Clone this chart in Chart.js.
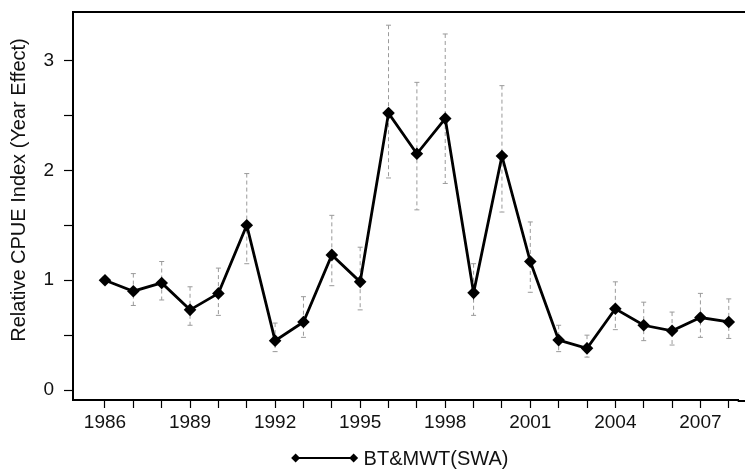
<!DOCTYPE html>
<html>
<head>
<meta charset="utf-8">
<script src="https://cdn.jsdelivr.net/npm/chart.js@4.4.1/dist/chart.umd.min.js"></script>
<style>
  html, body { margin: 0; padding: 0; background: #fff; overflow: hidden; }
  #wrap { width: 745px; height: 475px; }
</style>
</head>
<body>
<div id="wrap"><canvas id="cpue_chart"></canvas></div>
<script>
// data
const years = [1986, 1987, 1988, 1989, 1990, 1991, 1992, 1993, 1994, 1995, 1996, 1997,
  1998, 1999, 2000, 2001, 2002, 2003, 2004, 2005, 2006, 2007, 2008];
const yearEffect = [1.00, 0.90, 0.975, 0.73, 0.88, 1.50, 0.45, 0.62, 1.23, 0.985, 2.52, 2.15,
  2.47, 0.885, 2.13, 1.17, 0.455, 0.38, 0.74, 0.59, 0.54, 0.66, 0.62];
const upperCI = [null, 1.06, 1.17, 0.94, 1.11, 1.97, 0.61, 0.85, 1.59, 1.30, 3.32, 2.80,
  3.24, 1.15, 2.77, 1.53, 0.59, 0.50, 0.985, 0.80, 0.71, 0.88, 0.83];
const lowerCI = [null, 0.77, 0.82, 0.59, 0.68, 1.15, 0.35, 0.48, 0.95, 0.73, 1.93, 1.64,
  1.88, 0.68, 1.62, 0.89, 0.35, 0.30, 0.55, 0.45, 0.41, 0.48, 0.47];
const yTicks = [0, 0.5, 1, 1.5, 2, 2.5, 3];
const yLabels = [0, 1, 2, 3];
const xLabelYears = [1986, 1989, 1992, 1995, 1998, 2001, 2004, 2007];
const seriesName = 'BT&MWT(SWA)';
const yTitle = 'Relative CPUE Index (Year Effect)';

const FONT = '"Liberation Sans", Arial, sans-serif';

function diamond(ctx, cx, cy, r){
  ctx.beginPath();
  ctx.moveTo(cx, cy - r); ctx.lineTo(cx + r, cy); ctx.lineTo(cx, cy + r); ctx.lineTo(cx - r, cy);
  ctx.closePath(); ctx.fill();
}

// dashed confidence bars under the line, frame, y title and legend on top
const extras = {
  id: 'extras',
  beforeDatasetsDraw(chart){
    const ctx = chart.ctx;
    const xs = chart.scales.x, ys = chart.scales.y;
    ctx.save();
    ctx.strokeStyle = '#9a9a9a';
    ctx.lineWidth = 1;
    years.forEach(function(yr, i){
      if (upperCI[i] == null) return;
      const px = xs.getPixelForValue(yr);
      const top = ys.getPixelForValue(upperCI[i]);
      const bot = ys.getPixelForValue(lowerCI[i]);
      ctx.setLineDash([4, 3]);
      ctx.beginPath(); ctx.moveTo(px, top); ctx.lineTo(px, bot); ctx.stroke();
      ctx.setLineDash([]);
      ctx.beginPath();
      ctx.moveTo(px - 2.5, top); ctx.lineTo(px + 2.5, top);
      ctx.moveTo(px - 2.5, bot); ctx.lineTo(px + 2.5, bot);
      ctx.stroke();
    });
    ctx.restore();
  },
  afterDraw(chart){
    const a = chart.chartArea, ctx = chart.ctx;
    ctx.save();
    // frame: top line and the bottom axis run out to the edge
    ctx.strokeStyle = '#000'; ctx.lineWidth = 2;
    ctx.beginPath();
    ctx.moveTo(a.left, a.top); ctx.lineTo(chart.width, a.top);
    ctx.moveTo(a.right - 1, a.bottom + 1); ctx.lineTo(chart.width, a.bottom + 1);
    ctx.stroke();

    // y axis title
    ctx.fillStyle = '#111';
    ctx.font = '20px ' + FONT;
    ctx.textAlign = 'center';
    ctx.textBaseline = 'middle';
    ctx.translate(19, 190);
    ctx.rotate(-Math.PI / 2);
    ctx.fillText(yTitle, 0, 0);
    ctx.setTransform(1, 0, 0, 1, 0, 0);

    // legend
    const tw = ctx.measureText(seriesName).width;
    const symW = 66, gap = 6;
    const cx = 400;
    const x0 = cx - (symW + gap + tw) / 2;
    const y0 = 458;
    ctx.lineWidth = 2;
    ctx.beginPath(); ctx.moveTo(x0 + 4, y0); ctx.lineTo(x0 + symW - 4, y0); ctx.stroke();
    ctx.fillStyle = '#000';
    diamond(ctx, x0 + 4, y0, 4.5);
    diamond(ctx, x0 + symW - 4, y0, 4.5);
    ctx.fillStyle = '#111';
    ctx.textAlign = 'left';
    ctx.fillText(seriesName, x0 + symW + gap, y0 + 1);
    ctx.restore();
  }
};

function drawChart(){
  const ctx = document.getElementById('cpue_chart');
  const points = years.map(function(yr, i){ return { x: yr, y: yearEffect[i] }; });

  new Chart(ctx, {
    type: 'line',
    data: {
      datasets: [{
        label: seriesName,
        data: points,
        borderColor: '#000',
        backgroundColor: '#000',
        borderWidth: 2.8,
        pointStyle: 'rectRot',
        pointRadius: 6.3,
        pointBorderWidth: 0,
        tension: 0
      }]
    },
    plugins: [extras],
    options: {
      responsive: true,
      maintainAspectRatio: false,
      animation: false,
      layout: { padding: { top: 12, right: 0, left: 0, bottom: 0 } },
      plugins: {
        tooltip: { enabled: false },
        legend: { display: false }
      },
      scales: {
        x: {
          type: 'linear',
          min: 1984.872,
          max: 2008.35,
          afterBuildTicks: function(scale){
            scale.ticks = years.map(function(v){ return { value: v }; });
          },
          afterFit: function(scale){ scale.height = 75; },
          ticks: {
            autoSkip: false,
            maxRotation: 0,
            padding: 3,
            color: '#111',
            font: { family: FONT, size: 19 },
            callback: function(v){ return xLabelYears.includes(v) ? String(v) : ''; }
          },
          grid: { display: true, drawOnChartArea: false, drawTicks: true, tickLength: 8, color: '#000', tickWidth: 1.2 },
          border: { display: true, color: '#000', width: 2 }
        },
        y: {
          min: -0.09,
          max: 3.44,
          afterBuildTicks: function(scale){
            scale.ticks = yTicks.map(function(v){ return { value: v }; });
          },
          afterFit: function(scale){
            scale.width = 73;
            scale.paddingTop = 0;
            scale.paddingBottom = 0;
          },
          ticks: {
            autoSkip: false,
            padding: 10,
            color: '#111',
            font: { family: FONT, size: 19 },
            callback: function(v){ return yLabels.includes(v) ? String(v) : ''; }
          },
          grid: { display: true, drawOnChartArea: false, drawTicks: true, tickLength: 9, color: '#000', tickWidth: 1.2 },
          border: { display: true, color: '#000', width: 2 }
        }
      }
    }
  });
}

drawChart()
</script>
</body>
</html>
